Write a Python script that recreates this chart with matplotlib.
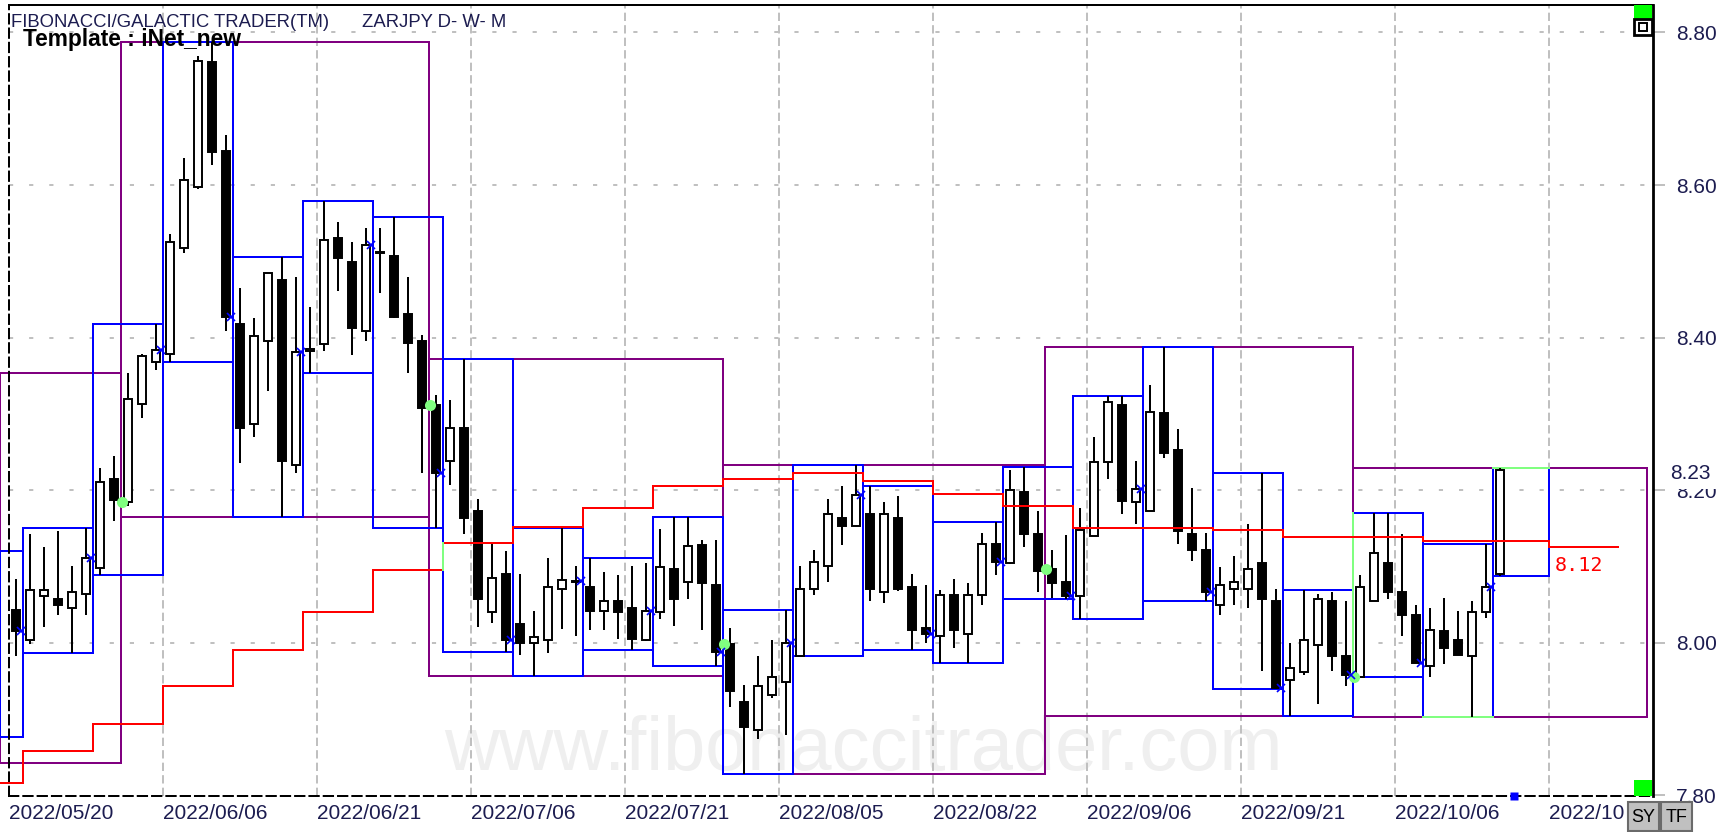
import numpy as np
import pandas as pd
import matplotlib
matplotlib.use("Agg")
import matplotlib.pyplot as plt
from matplotlib.patches import Rectangle
from matplotlib.transforms import blended_transform_factory

# --- DATA: ZARJPY daily bars ---
START_DATE = "2022-05-20"
MONTH_END = "2022-10-31"

OPEN = [8.043, 8.004, 8.061, 8.057, 8.045, 8.064, 8.098, 8.215, 8.185, 8.313,
        8.368, 8.379, 8.518, 8.598, 8.761, 8.644, 8.418, 8.287, 8.396, 8.475,
        8.233, 8.383, 8.391, 8.530, 8.499, 8.408, 8.511, 8.507, 8.431, 8.395,
        8.311, 8.238, 8.282, 8.172, 8.040, 8.090, 8.025, 8.000, 8.003, 8.071,
        8.080, 8.073, 8.041, 8.054, 8.045, 8.003, 8.040, 8.096, 8.080, 8.128,
        8.075, 7.998, 7.922, 7.885, 7.932, 7.948, 7.983, 8.071, 8.100, 8.164,
        8.153, 8.169, 8.066, 8.164, 8.073, 8.019, 8.009, 8.062, 8.011, 8.063,
        8.130, 8.105, 8.198, 8.143, 8.096, 8.080, 8.061, 8.140, 8.237, 8.311,
        8.184, 8.173, 8.301, 8.253, 8.143, 8.122, 8.050, 8.071, 8.071, 8.104,
        8.054, 7.951, 7.962, 7.997, 8.054, 7.983, 7.955, 8.055, 8.104, 8.066,
        8.036, 7.970, 8.015, 8.004, 7.982, 8.040, 8.090]
HIGH = [8.083, 8.143, 8.125, 8.146, 8.100, 8.150, 8.229, 8.245, 8.354, 8.379,
        8.418, 8.536, 8.636, 8.769, 8.787, 8.666, 8.465, 8.426, 8.485, 8.506,
        8.479, 8.440, 8.579, 8.552, 8.525, 8.543, 8.544, 8.558, 8.479, 8.403,
        8.325, 8.318, 8.372, 8.188, 8.130, 8.120, 8.090, 8.041, 8.111, 8.151,
        8.100, 8.111, 8.093, 8.089, 8.100, 8.104, 8.149, 8.165, 8.165, 8.134,
        8.135, 8.019, 7.944, 7.983, 8.004, 8.043, 8.100, 8.121, 8.188, 8.205,
        8.233, 8.205, 8.185, 8.192, 8.090, 8.075, 8.069, 8.083, 8.078, 8.144,
        8.158, 8.226, 8.230, 8.172, 8.122, 8.141, 8.177, 8.269, 8.323, 8.323,
        8.238, 8.338, 8.388, 8.280, 8.203, 8.144, 8.099, 8.114, 8.156, 8.222,
        8.071, 8.000, 8.069, 8.064, 8.066, 8.054, 8.089, 8.170, 8.170, 8.143,
        8.049, 8.045, 8.059, 8.041, 8.054, 8.130, 8.229]
LOW = [7.982, 7.998, 8.020, 8.036, 7.986, 8.036, 8.089, 8.160, 8.179, 8.294,
       8.358, 8.368, 8.511, 8.595, 8.626, 8.408, 8.236, 8.270, 8.330, 8.165,
       8.223, 8.353, 8.383, 8.461, 8.377, 8.395, 8.459, 8.426, 8.353, 8.223,
       8.150, 8.207, 8.142, 8.020, 8.026, 7.988, 7.984, 7.956, 7.986, 8.018,
       8.009, 8.016, 8.017, 8.005, 7.991, 8.002, 8.031, 8.022, 8.057, 8.016,
       7.970, 7.916, 7.828, 7.874, 7.927, 7.879, 7.983, 8.063, 8.080, 8.128,
       8.153, 8.055, 8.052, 8.068, 7.991, 8.000, 7.974, 7.993, 7.974, 8.050,
       8.089, 8.103, 8.125, 8.066, 8.059, 8.057, 8.031, 8.140, 8.215, 8.169,
       8.156, 8.173, 8.242, 8.130, 8.107, 8.055, 8.036, 8.050, 8.045, 7.963,
       7.939, 7.904, 7.958, 7.919, 7.963, 7.943, 7.955, 8.055, 8.057, 8.009,
       7.974, 7.955, 7.972, 7.984, 7.902, 8.033, 8.088]
CLOSE = [8.015, 8.069, 8.069, 8.050, 8.066, 8.111, 8.210, 8.187, 8.320, 8.376,
         8.384, 8.525, 8.607, 8.763, 8.643, 8.427, 8.281, 8.402, 8.484, 8.238,
         8.381, 8.385, 8.528, 8.504, 8.412, 8.522, 8.512, 8.427, 8.393, 8.308,
         8.222, 8.282, 8.163, 8.057, 8.085, 8.003, 8.000, 8.007, 8.073, 8.082,
         8.081, 8.041, 8.055, 8.040, 8.005, 8.041, 8.099, 8.057, 8.127, 8.078,
         7.988, 7.937, 7.890, 7.943, 7.955, 8.000, 8.071, 8.106, 8.169, 8.153,
         8.193, 8.071, 8.169, 8.071, 8.016, 8.012, 8.062, 8.016, 8.062, 8.130,
         8.106, 8.200, 8.142, 8.094, 8.078, 8.061, 8.148, 8.237, 8.316, 8.186,
         8.202, 8.303, 8.249, 8.146, 8.121, 8.066, 8.076, 8.080, 8.096, 8.057,
         7.941, 7.967, 8.003, 8.057, 7.982, 7.957, 8.073, 8.117, 8.066, 8.036,
         7.974, 8.017, 7.993, 7.984, 8.040, 8.073, 8.226]

# ranges that started before the first visible bar
PREV_WEEK_HIGH, PREV_WEEK_LOW = 8.120, 7.877
MAY_HIGH, MAY_LOW = 8.354, 7.842

# red weekly step level, week of 05/16 up to the week after the last bar
WEEK_LEVEL = [7.816, 7.858, 7.894, 7.943, 7.990, 8.040, 8.095, 8.131, 8.152,
              8.177, 8.205, 8.215, 8.222, 8.212, 8.195, 8.179, 8.150, 8.150,
              8.148, 8.138, 8.138, 8.133, 8.133, 8.125]

Y_TICKS = [7.80, 8.00, 8.20, 8.40, 8.60, 8.80]
LAST_LABEL = "8.23"
PROJ_LABEL = "8.12"

# --- LAYOUT ---
W, H = 1724, 832
LEFT_EXT = -1.15        # lines run off the left edge of the plot
CUR_WEEK_END = 109.5
NEXT_WEEK_END = 114.5
PURPLE, BLUE, RED = "#800080", "#0000ff", "#ff0000"
LGREEN, GREEN = "#80ff80", "#00ff00"
GRID = "#c0c0c0"
TXT = "#1c1c50"
LW = 1.44

plt.rcParams["font.family"] = ["Liberation Sans", "DejaVu Sans"]
plt.rcParams["lines.scale_dashes"] = False

O, Hh, L, C = map(np.array, (OPEN, HIGH, LOW, CLOSE))
n = len(O)
x = np.arange(n)
all_dates = pd.bdate_range(START_DATE, MONTH_END)
dates = all_dates[:n]
week_code, _ = pd.factorize(dates.to_period("W"))
month_code, _ = pd.factorize(all_dates.to_period("M"))

fig = plt.figure(figsize=(W / 100, H / 100), dpi=100)
ax = fig.add_axes([9 / W, 36 / H, 1644 / W, 791 / H])
ax.set_xlim(-0.5, 116.93)
ax.set_ylim(7.799, 8.836)

# --- GRID ---
for v in Y_TICKS[1:]:
    ax.axhline(v, color=GRID, lw=LW, ls=(0, (3, 11.5)), zorder=1)
for k in range(1, 11):
    ax.axvline(-0.5 + 11 * k, color=GRID, lw=LW, ls=(0, (6, 3)), zorder=1)

ax.text(60.5, 7.833, "www.fibonaccitrader.com", fontsize=54.5, color="#efefef",
        ha="center", va="baseline", zorder=0.5)

# --- MONTHLY BOXES (purple) ---
for m in range(month_code.max() + 1):
    idx_all = np.where(month_code == m)[0]
    idx = idx_all[idx_all < n]
    x0, x1 = idx_all[0] - 0.5, idx_all[-1] + 0.5
    if m == 0:
        x0, hi, lo = LEFT_EXT, MAY_HIGH, MAY_LOW
    else:
        hi, lo = Hh[idx].max(), L[idx].min()
        ax.plot(x0 + 0.1, O[idx_all[0]], "o", color=LGREEN, ms=8, mec="none", zorder=5)
    ax.add_patch(Rectangle((x0, lo), x1 - x0, hi - lo, fill=False, ec=PURPLE,
                           lw=LW, zorder=2, clip_on=False))

# --- WEEKLY BOXES (blue) ---
weeks = []
for w in range(week_code.max() + 1):
    idx = np.where(week_code == w)[0]
    x0, x1 = idx[0] - 0.5, idx[-1] + 0.5
    hi, lo = Hh[idx].max(), L[idx].min()
    if w == 0:
        x0, hi, lo = LEFT_EXT, PREV_WEEK_HIGH, PREV_WEEK_LOW
    if w == week_code.max():
        x1 = CUR_WEEK_END
    else:
        ax.plot(idx[-1] + 0.35, C[idx[-1]], "x", color=BLUE, ms=6, mew=1.2, zorder=5)
    weeks.append((x0, x1, hi, lo))
    ax.add_patch(Rectangle((x0, lo), x1 - x0, hi - lo, fill=False, ec=BLUE,
                           lw=LW, zorder=2.2, clip_on=False))

# light green edges where week and month boxes meet
x0, x1, hi, lo = weeks[-1]
ax.plot([x0, x1], [hi, hi], color=LGREEN, lw=LW, zorder=2.4)
x0, x1, hi, lo = weeks[-2]
ax.plot([x0, x1], [lo, lo], color=LGREEN, lw=LW, zorder=2.4)
x0, x1, hi, lo = weeks[-3]
ax.plot([x0, x0], [lo, hi], color=LGREEN, lw=LW, zorder=2.4)

# --- CANDLES ---
up = C >= O
ax.vlines(x, L, Hh, color="black", lw=LW, zorder=3)
ax.bar(x, np.maximum(np.abs(C - O), 0.0012), bottom=np.minimum(O, C), width=0.55,
       color=np.where(up, "white", "black"), edgecolor="black", linewidth=1.4, zorder=3.2)

# --- RED WEEKLY STEP ---
edges = [LEFT_EXT] + [np.where(week_code == w)[0][0] - 0.5 for w in range(1, week_code.max() + 1)]
edges += [CUR_WEEK_END, NEXT_WEEK_END]
ax.stairs(WEEK_LEVEL, edges, baseline=None, color=RED, lw=LW, zorder=3.5, clip_on=False)
ax.plot([edges[7], edges[7]], [WEEK_LEVEL[6], WEEK_LEVEL[7]],
        color=LGREEN, lw=LW, zorder=3.6)
ax.text(CUR_WEEK_END + 0.4, 8.101, PROJ_LABEL, color=RED, fontsize=14.5,
        family="DejaVu Sans Mono", va="center", ha="left", zorder=6)

# --- AXES ---
for s in ("top", "right"):
    ax.spines[s].set_linewidth(LW if s == "top" else 2)
for s in ("left", "bottom"):
    ax.spines[s].set_linewidth(LW)
    ax.spines[s].set_linestyle((0, (6.7, 3.6)))
ax.spines["left"].set_color("black")

ax.yaxis.tick_right()
ax.set_yticks(Y_TICKS, [f"{v:.2f}" for v in Y_TICKS])
ax.tick_params(axis="y", length=8.6, width=LW, color=GRID, pad=8,
               labelsize=15, labelcolor=TXT)
tick_pos = [-0.5 + 11 * k for k in range(11)]
tick_lab = [all_dates[11 * k].strftime("%Y/%m/%d") for k in range(11)]
tick_lab[-1] = all_dates[110].strftime("%Y/%m")   # cut off by the SY/TF buttons
ax.set_xticks(tick_pos, tick_lab)
ax.tick_params(axis="x", length=0, pad=6, labelsize=15, labelcolor=TXT)
for lab in ax.get_xticklabels():
    lab.set_ha("left")

trans = blended_transform_factory(ax.transAxes, ax.transData)
ax.text(1 + 17 / 1644, C[-1] - 0.004, LAST_LABEL, transform=trans, fontsize=15,
        color=TXT, va="center", ha="left", zorder=7, clip_on=False,
        bbox=dict(boxstyle="square,pad=0.3", fc="white", ec="none"))

ax.plot(107, 7.799, "s", color=BLUE, ms=6, mec="none", zorder=8, clip_on=False)

# --- HEADER TEXT ---
fig.text(11 / W, 1 - 27 / H, "FIBONACCI/GALACTIC TRADER(TM)", fontsize=13.3,
         color=TXT, va="baseline", zorder=10)
fig.text(362 / W, 1 - 27 / H, "ZARJPY D- W- M", fontsize=13.3,
         color=TXT, va="baseline", zorder=10)
fig.text(23 / W, 1 - 46 / H, "Template : iNet_new", fontsize=16.4, weight="bold",
         color="black", va="baseline", zorder=10)


# --- WIDGETS IN FIGURE PIXELS ---
def px_rect(x0, y0, x1, y1, **kw):
    r = Rectangle((x0 / W, 1 - y1 / H), (x1 - x0) / W, (y1 - y0) / H,
                  transform=fig.transFigure, **kw)
    fig.add_artist(r)


px_rect(1634, 5, 1652, 19, fc=GREEN, ec="none", zorder=10)
px_rect(1634, 19, 1652, 35, fc="white", ec="black", lw=2, zorder=10)
px_rect(1639, 23, 1647, 31, fc="white", ec="black", lw=1.4, zorder=10)
px_rect(1634, 780, 1652, 796, fc=GREEN, ec="none", zorder=10)
for x0, lab in ((1628, "SY"), (1661, "TF")):
    px_rect(x0, 802, x0 + 31, 831, fc="#c0c0c0", ec="#6a6a6a", lw=1.5, zorder=10)
    fig.text((x0 + 15.5) / W, 1 - 817 / H, lab, fontsize=13, color="black",
             ha="center", va="center", zorder=11)

fig.savefig("out.png", dpi=100)
